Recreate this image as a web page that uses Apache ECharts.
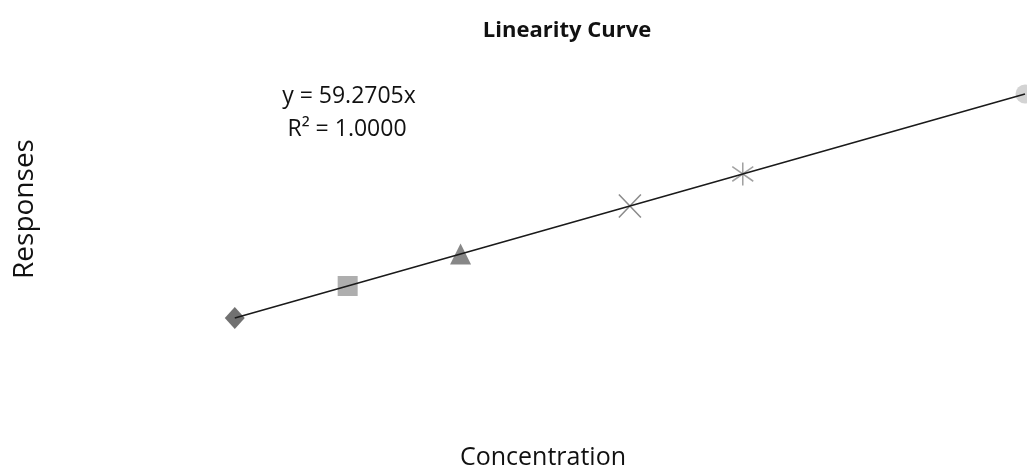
<!DOCTYPE html>
<html>
<head>
<meta charset="utf-8">
<title>Linearity Curve</title>
<script src="https://cdn.jsdelivr.net/npm/echarts@6/dist/echarts.min.js"></script>
<style>
  html, body { margin: 0; padding: 0; background: #fff; }
  #chart { width: 1027px; height: 471px; }
</style>
</head>
<body>
<div id="chart"></div>
<script>
// data
const concentration = [2, 3, 4, 5.5, 6.5, 9]
const responses = [118.5, 177.8, 237.1, 326.0, 385.3, 533.4]
const equationText = 'y = 59.2705x'
const r2Text = 'R² = 1.0000'

// one marker per level, like the excel default marker cycle
const xPath = 'path://M0,0L20,22M20,0L0,22'
const starPath = 'path://M10,0L10,22M0,4L20,18M20,4L0,18'
const markers = [
  { symbol: 'diamond', size: [20, 22], color: '#4d4d4d' },
  { symbol: 'rect', size: [20, 20], color: '#9a9a9a' },
  { symbol: 'triangle', size: [21, 21], color: '#696969' },
  { symbol: xPath, size: [22, 23], color: 'rgba(0,0,0,0)', border: '#6e6e6e' },
  { symbol: starPath, size: [21, 23], color: 'rgba(0,0,0,0)', border: '#8a8a8a' },
  { symbol: 'circle', size: 19, color: '#c8c8c8' }
]

const myChart = echarts.init(document.getElementById('chart'))

const points = concentration.map((c, i) => {
  const m = markers[i]
  return {
    value: [c, responses[i]],
    symbol: m.symbol,
    symbolSize: m.size,
    itemStyle: {
      color: m.color,
      borderColor: m.border || m.color,
      borderWidth: m.border ? 1.6 : 0
    }
  }
})

const options = {
  animation: false,
  backgroundColor: '#fff',
  grid: {
    left: 9,
    right: 2,
    top: 58,
    bottom: 89
  },
  xAxis: {
    type: 'value',
    min: 0,
    max: 9,
    axisLine: { show: false },
    axisTick: { show: false },
    axisLabel: { show: false },
    splitLine: { show: false }
  },
  yAxis: {
    type: 'value',
    min: 0,
    max: 600,
    axisLine: { show: false },
    axisTick: { show: false },
    axisLabel: { show: false },
    splitLine: { show: false }
  },
  graphic: [
    {
      type: 'text',
      x: 567,
      y: 31,
      style: { text: 'Linearity Curve', font: 'bold 22px "Open Sans"', fill: '#111', align: 'center', verticalAlign: 'middle' }
    },
    {
      type: 'text',
      x: 349,
      y: 96,
      style: { text: equationText, font: '23px "Open Sans"', fill: '#111', align: 'center', verticalAlign: 'middle' }
    },
    {
      type: 'text',
      x: 347,
      y: 129,
      style: { text: r2Text, font: '23px "Open Sans"', fill: '#111', align: 'center', verticalAlign: 'middle' }
    },
    {
      type: 'text',
      x: 543,
      y: 458,
      style: { text: 'Concentration', font: '25px "Open Sans"', fill: '#111', align: 'center', verticalAlign: 'middle' }
    },
    {
      type: 'text',
      x: 25,
      y: 209,
      rotation: Math.PI / 2,
      style: { text: 'Responses', font: '28px "Open Sans"', fill: '#111', align: 'center', verticalAlign: 'middle' }
    }
  ],
  series: [
    {
      name: 'Levels',
      type: 'scatter',
      z: 2,
      data: points
    },
    {
      name: 'Trendline',
      type: 'line',
      z: 3,
      symbol: 'none',
      silent: true,
      lineStyle: { color: '#1a1a1a', width: 1.6 },
      data: concentration.map((c, i) => [c, responses[i]])
    }
  ]
}

myChart.setOption(options)
</script>
</body>
</html>
